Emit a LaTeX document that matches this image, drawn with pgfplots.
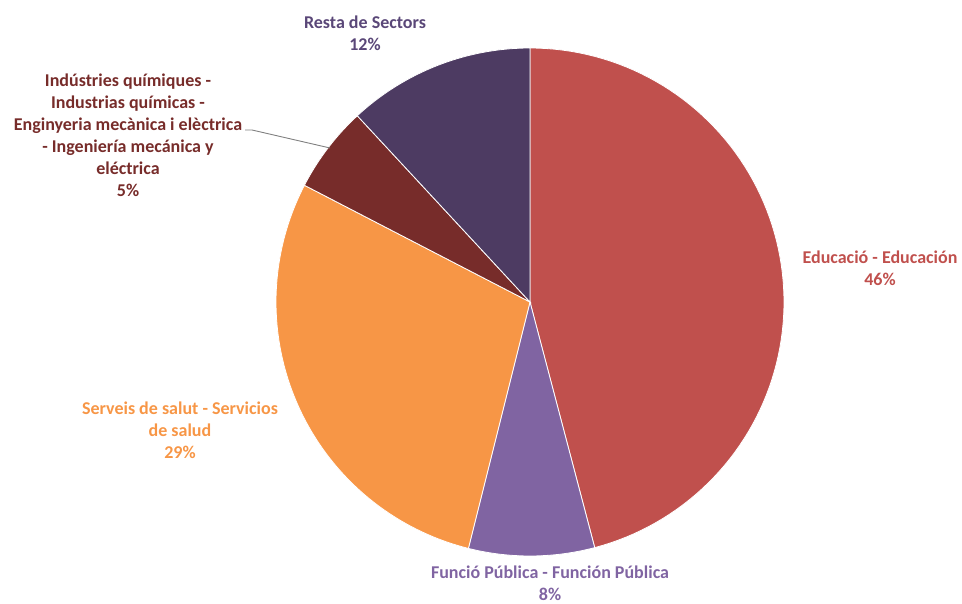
\documentclass[border=0pt]{standalone}
\usepackage{fontspec}
\setmainfont{Carlito}
\usepackage{pgfplots}
\pgfplotsset{compat=1.18}

\definecolor{cEdu}{HTML}{C0504D}
\definecolor{cFun}{HTML}{8064A2}
\definecolor{cSal}{HTML}{F79646}
\definecolor{cInd}{HTML}{772C2A}
\definecolor{cRes}{HTML}{4D3B62}
\definecolor{tRes}{HTML}{5A4778}

% share of each sector, in %, clockwise from the top
\def\cum{0}
\newcommand{\slice}[2]{%
  \pgfmathsetmacro{\aS}{\cum*3.6}%
  \pgfmathsetmacro{\aE}{(\cum+#1)*3.6}%
  \addplot[fill=#2, draw=white, line width=0.8pt, domain=\aS:\aE, samples=90]
    ({530+254*sin(x)},{301+254*cos(x)}) -- (axis cs:530,301) -- cycle;
  \pgfmathsetmacro{\tmp}{\cum+#1}%
  \xdef\cum{\tmp}%
}

\begin{document}
\begin{tikzpicture}
\begin{axis}[
  hide axis, scale only axis,
  width=962pt, height=603pt,
  xmin=0, xmax=962, ymin=0, ymax=603,
  clip=false,
]
\slice{45.9}{cEdu}
\slice{8.0}{cFun}
\slice{28.7}{cSal}
\slice{5.5}{cInd}
\slice{11.9}{cRes}

\tikzset{lbl/.style={align=center, inner sep=0pt, font=\fontsize{18}{22}\selectfont\bfseries}}
\node[lbl, text=cEdu] at (axis cs:880,334.5) {Educació - Educación\\46\%};
\node[lbl, text=cFun] at (axis cs:550,20) {Funció Pública - Función Pública\\8\%};
\node[lbl, text=cSal] at (axis cs:180,172.5) {Serveis de salut - Servicios\\de salud\\29\%};
\node[lbl, text=cInd] at (axis cs:128,467.5) {Indústries químiques -\\Industrias químicas -\\Enginyeria mecànica i elèctrica\\- Ingeniería mecánica y\\eléctrica\\5\%};
\node[lbl, text=tRes] at (axis cs:365,569.5) {Resta de Sectors\\12\%};
\draw[gray, line width=0.9pt] (axis cs:245,473) -- (axis cs:252,473) -- (axis cs:330,455);
\end{axis}
\pgfresetboundingbox
\path[use as bounding box] (current axis.south west) rectangle (current axis.north east);
\end{tikzpicture}
\end{document}
